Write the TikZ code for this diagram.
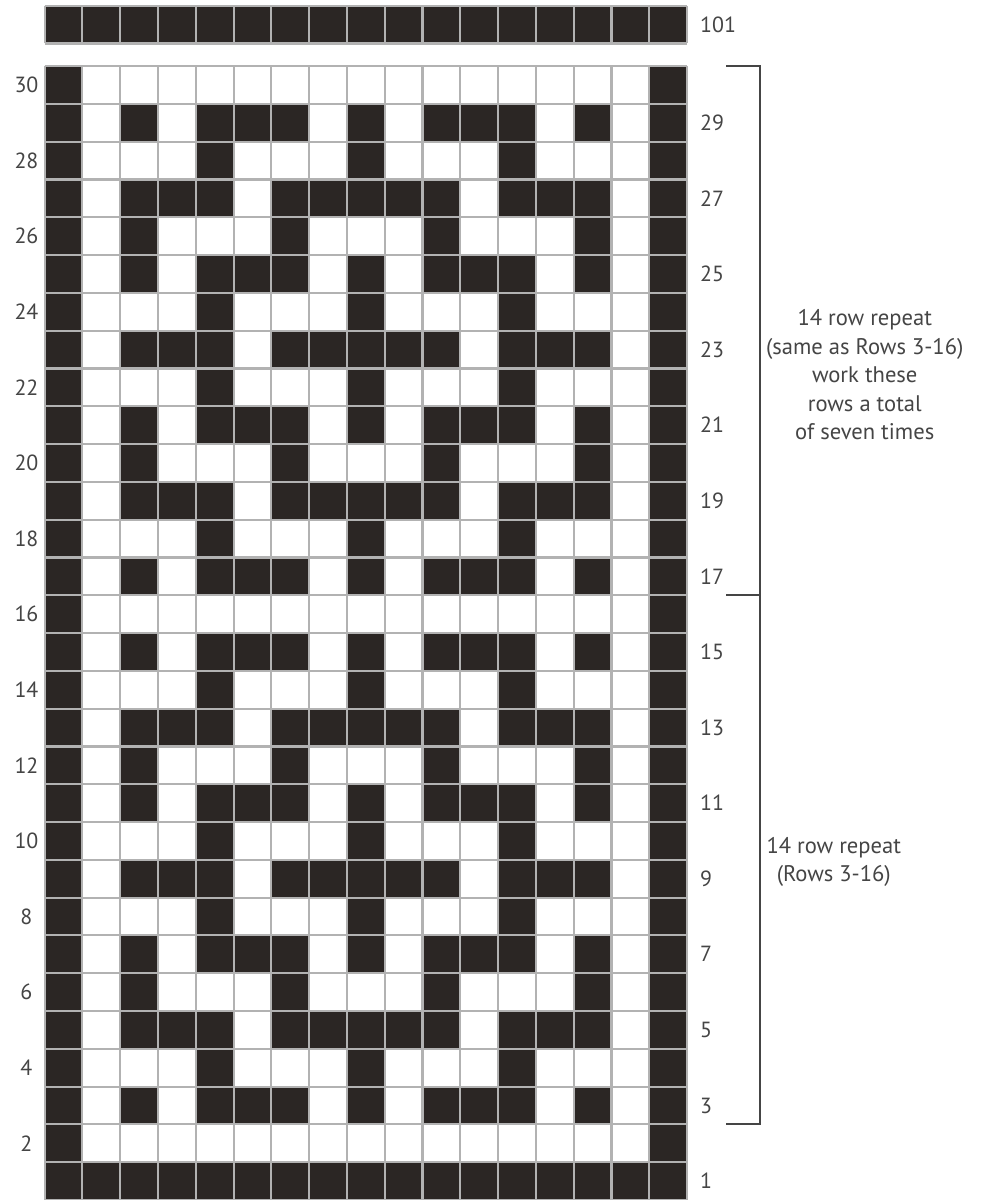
\documentclass[tikz,border=0pt]{standalone}
\usepackage{fontspec}
\setmainfont{PT Sans}
\usepackage{tikz}

\definecolor{ink}{HTML}{2B2624}
\definecolor{gridgray}{HTML}{B2B2B2}
\definecolor{labelgray}{HTML}{454545}

\tikzset{
  rownum/.style={text=labelgray, font=\fontsize{16.5}{19}\selectfont, inner sep=0pt},
  note/.style={text=labelgray, font=\fontsize{17}{21.4}\selectfont, align=center, inner sep=0pt},
  bracket/.style={draw=labelgray, line width=1.5pt},
  chartgrid/.style={draw=gridgray, line width=1.6pt},
}

\begin{document}
\begin{tikzpicture}
\useasboundingbox (-1.18,0) rectangle (24.75,31.75);
\fill[white] (-1.18,0) rectangle (24.75,31.75);

% row 1, row 101 and the two side borders
\fill[ink] (0,0) rectangle (17,1);
\fill[ink] (0,30.6) rectangle (17,31.6);
\fill[ink] (0,0) rectangle (1,30);
\fill[ink] (16,0) rectangle (17,30);

% pattern (rows 3-16, then again as rows 17-30)
\foreach \base in {0,14}
  \foreach \r/\cols in {3/{3,5,6,7,9,11,12,13,15},
                        4/{5,9,13},
                        5/{3,4,5,7,8,9,10,11,13,14,15},
                        6/{3,7,11,15},
                        7/{3,5,6,7,9,11,12,13,15},
                        8/{5,9,13},
                        9/{3,4,5,7,8,9,10,11,13,14,15},
                        10/{5,9,13},
                        11/{3,5,6,7,9,11,12,13,15},
                        12/{3,7,11,15},
                        13/{3,4,5,7,8,9,10,11,13,14,15},
                        14/{5,9,13},
                        15/{3,5,6,7,9,11,12,13,15}}
    \foreach \c in \cols
      \fill[ink] (\c-1,\base+\r-1) rectangle (\c,\base+\r);

% grid lines
\draw[chartgrid] (0,0) grid (17,30);
\begin{scope}[shift={(0,30.6)}]
\draw[chartgrid] (0,0) grid (17,1);
\end{scope}

% row numbers
\foreach \r in {2,4,...,30}
  \node[rownum] (left\r) at (-0.48,\r-0.5) {\r};
\foreach \r in {1,3,...,29}
  \node[rownum, anchor=west] (right\r) at (17.34,\r-0.5) {\r};
\node[rownum, anchor=west] (right101) at (17.34,31.1) {101};

% brackets
\coordinate (tickTop) at (18.03,30);
\coordinate (tickMid) at (18.03,16);
\coordinate (tickLow) at (18.03,2);
\draw[bracket] (tickTop) -| (18.93,2) -- (tickLow);
\draw[bracket] (tickMid) -- (18.93,16);

% repeat notes
\node[note] (upperNote) at (21.7,21.83)
  {14 row repeat\\(same as Rows 3-16)\\work these\\rows a total\\of seven times};
\node[note] (lowerNote) at (20.88,8.95) {14 row repeat\\(Rows 3-16)};
\end{tikzpicture}
\end{document}
